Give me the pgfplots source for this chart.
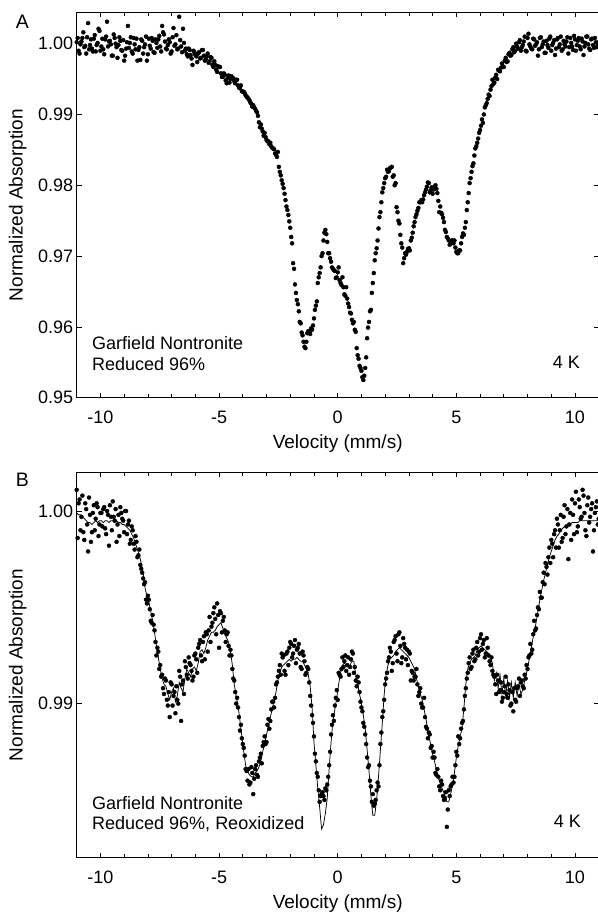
\documentclass[border=0pt]{standalone}
\usepackage{fontspec}
\setmainfont{Liberation Sans}
\usepackage{pgfplots}
\pgfplotsset{compat=1.18}
\usepackage{pgfplotstable}

\pgfplotstableread{
x y
-11.00 1.0002
-10.92 0.9990
-10.84 0.9999
-10.76 1.0008
-10.68 0.9995
-10.60 0.9986
-10.52 1.0029
-10.44 0.9998
-10.36 0.9993
-10.28 1.0007
-10.20 0.9989
-10.12 1.0001
-10.04 1.0018
-9.96 0.9996
-9.88 0.9992
-9.80 1.0006
-9.72 1.0031
-9.64 1.0003
-9.56 0.9999
-9.48 0.9983
-9.40 1.0008
-9.32 0.9995
-9.24 0.9998
-9.16 1.0004
-9.08 0.9990
-9.00 0.9976
-8.92 0.9993
-8.84 1.0025
-8.76 1.0001
-8.68 0.9989
-8.60 1.0008
-8.52 0.9992
-8.44 0.9976
-8.36 0.9995
-8.28 1.0006
-8.20 0.9986
-8.12 0.9999
-8.04 0.9976
-7.96 1.0007
-7.88 0.9993
-7.80 1.0004
-7.72 0.9987
-7.64 1.0001
-7.56 1.0006
-7.48 0.9996
-7.40 1.0025
-7.32 1.0013
-7.24 0.9993
-7.16 0.9998
-7.08 1.0002
-7.00 0.9989
-6.92 1.0022
-6.84 0.9999
-6.76 0.9992
-6.68 1.0038
-6.60 0.9996
-6.52 1.0021
-6.44 0.9990
-6.36 0.9985
-6.28 0.9993
-6.20 0.9984
-6.12 0.9970
-6.04 0.9988
-5.96 0.9982
-5.88 0.9986
-5.80 0.9979
-5.72 0.9991
-5.64 0.9983
-5.56 0.9978
-5.48 0.9986
-5.40 0.9975
-5.32 0.9980
-5.24 0.9967
-5.16 0.9970
-5.08 0.9960
-5.00 0.9967
-4.92 0.9958
-4.84 0.9953
-4.76 0.9956
-4.68 0.9944
-4.60 0.9955
-4.52 0.9950
-4.44 0.9952
-4.36 0.9947
-4.28 0.9949
-4.20 0.9941
-4.12 0.9937
-4.04 0.9933
-3.96 0.9932
-3.88 0.9927
-3.80 0.9924
-3.72 0.9920
-3.64 0.9915
-3.56 0.9913
-3.48 0.9908
-3.40 0.9903
-3.32 0.9889
-3.24 0.9886
-3.16 0.9876
-3.08 0.9874
-3.00 0.9864
-2.92 0.9862
-2.84 0.9860
-2.76 0.9853
-2.68 0.9851
-2.60 0.9843
-2.52 0.9847
-2.44 0.9819
-2.36 0.9807
-2.28 0.9796
-2.20 0.9779
-2.12 0.9765
-2.04 0.9749
-1.96 0.9727
-1.88 0.9690
-1.80 0.9660
-1.72 0.9638
-1.64 0.9622
-1.56 0.9605
-1.48 0.9588
-1.40 0.9572
-1.32 0.9579
-1.24 0.9594
-1.16 0.9590
-1.08 0.9596
-1.00 0.9612
-0.92 0.9630
-0.84 0.9662
-0.76 0.9676
-0.68 0.9700
-0.60 0.9722
-0.52 0.9737
-0.44 0.9720
-0.36 0.9704
-0.28 0.9692
-0.20 0.9682
-0.12 0.9679
-0.04 0.9670
0.04 0.9684
0.12 0.9662
0.20 0.9670
0.28 0.9646
0.36 0.9656
0.44 0.9633
0.52 0.9620
0.60 0.9610
0.68 0.9607
0.76 0.9593
0.84 0.9560
0.92 0.9545
1.00 0.9538
1.08 0.9525
1.16 0.9542
1.24 0.9584
1.32 0.9607
1.40 0.9624
1.48 0.9662
1.56 0.9694
1.64 0.9711
1.72 0.9739
1.80 0.9762
1.88 0.9790
1.96 0.9803
2.04 0.9812
2.12 0.9819
2.20 0.9824
2.28 0.9826
2.36 0.9814
2.44 0.9803
2.52 0.9762
2.60 0.9746
2.68 0.9718
2.76 0.9690
2.84 0.9704
2.92 0.9706
3.00 0.9711
3.08 0.9722
3.16 0.9733
3.24 0.9748
3.32 0.9759
3.40 0.9768
3.48 0.9776
3.56 0.9776
3.64 0.9786
3.72 0.9794
3.80 0.9804
3.88 0.9790
3.96 0.9797
4.04 0.9794
4.12 0.9800
4.20 0.9789
4.28 0.9762
4.36 0.9761
4.44 0.9754
4.52 0.9737
4.60 0.9727
4.68 0.9722
4.76 0.9718
4.84 0.9722
4.92 0.9722
5.00 0.9706
5.08 0.9704
5.16 0.9708
5.24 0.9727
5.32 0.9730
5.40 0.9748
5.48 0.9776
5.56 0.9803
5.64 0.9819
5.72 0.9831
5.80 0.9852
5.88 0.9860
5.96 0.9874
6.04 0.9884
6.12 0.9888
6.20 0.9910
6.28 0.9916
6.36 0.9928
6.44 0.9935
6.52 0.9949
6.60 0.9945
6.68 0.9956
6.76 0.9963
6.84 0.9961
6.92 0.9972
7.00 0.9967
7.08 0.9980
7.16 0.9975
7.24 0.9987
7.32 0.9984
7.40 0.9995
7.48 0.9990
7.56 0.9996
7.64 1.0002
7.72 0.9990
7.80 0.9998
7.88 1.0010
7.96 0.9989
8.04 1.0014
8.12 0.9996
8.20 0.9992
8.28 1.0006
8.36 0.9999
8.44 0.9983
8.52 1.0008
8.60 0.9995
8.68 1.0003
8.76 0.9987
8.84 0.9998
8.92 1.0007
9.00 0.9990
9.08 1.0001
9.16 0.9984
9.24 1.0006
9.32 0.9995
9.40 1.0010
9.48 0.9992
9.56 0.9999
9.64 1.0003
9.72 0.9986
9.80 1.0008
9.88 0.9996
9.96 1.0011
10.04 0.9990
10.12 1.0004
10.20 0.9996
10.28 1.0007
10.36 0.9984
10.44 1.0001
10.52 1.0010
10.60 0.9993
10.68 1.0006
10.76 0.9998
10.84 1.0008
10.92 0.9995
11.00 1.0002
}\dataA

\pgfplotstableread{
x y
-10.96 1.0008
-10.88 0.9986
-10.80 1.0003
-10.72 1.0016
-10.64 0.9997
-10.56 1.0009
-10.48 0.9992
-10.40 1.0006
-10.32 0.9989
-10.24 1.0012
-10.16 0.9998
-10.08 1.0021
-10.00 0.9990
-9.92 1.0007
-9.84 0.9985
-9.76 1.0010
-9.68 0.9996
-9.60 1.0004
-9.52 0.9983
-9.44 1.0013
-9.36 1.0000
-9.28 0.9980
-9.20 1.0009
-9.12 0.9991
-9.04 1.0005
-8.96 0.9983
-8.88 1.0002
-8.80 0.9994
-8.72 1.0009
-8.64 0.9986
-8.56 0.9999
-8.48 1.0007
-8.40 0.9991
-8.32 0.9977
-8.24 1.0004
-8.16 0.9995
-8.08 1.0010
-8.00 0.9985
-7.92 0.9997
-7.84 1.0008
-7.76 0.9988
-7.68 1.0006
-7.60 0.9994
-7.52 1.0011
-7.44 0.9989
-7.36 1.0016
-7.28 1.0003
-7.20 0.9992
-7.12 1.0006
-7.04 0.9986
-6.96 1.0009
-6.88 0.9997
-6.80 1.0012
-6.72 0.9993
-6.64 1.0005
-6.56 0.9988
-6.48 1.0001
-6.40 0.9993
-6.32 0.9982
-6.24 0.9991
-6.16 0.9979
-6.08 0.9990
-6.00 0.9984
-5.92 0.9974
-5.84 0.9988
-5.76 0.9980
-5.68 0.9991
-5.60 0.9976
-5.52 0.9982
-5.44 0.9973
-5.36 0.9981
-5.28 0.9970
-5.20 0.9975
-5.12 0.9963
-5.04 0.9968
-4.96 0.9967
-4.88 0.9953
-4.80 0.9958
-4.72 0.9948
-4.64 0.9951
-4.56 0.9945
-4.48 0.9954
-4.40 0.9951
-4.32 0.9944
-4.24 0.9949
-4.16 0.9938
-4.08 0.9941
-4.00 0.9932
-3.92 0.9930
-3.84 0.9925
-3.76 0.9922
-3.68 0.9917
-3.60 0.9911
-3.52 0.9910
-3.44 0.9905
-3.36 0.9898
-3.28 0.9882
-3.20 0.9880
-3.12 0.9870
-3.04 0.9868
-2.96 0.9862
-2.88 0.9858
-2.80 0.9855
-2.72 0.9852
-2.64 0.9845
-2.56 0.9840
-2.48 0.9826
-2.40 0.9814
-2.32 0.9802
-2.24 0.9788
-2.16 0.9770
-2.08 0.9758
-2.00 0.9740
-1.92 0.9718
-1.84 0.9682
-1.76 0.9648
-1.68 0.9632
-1.60 0.9607
-1.52 0.9592
-1.44 0.9579
-1.36 0.9570
-1.28 0.9591
-1.20 0.9593
-1.12 0.9598
-1.04 0.9602
-0.96 0.9624
-0.88 0.9636
-0.80 0.9670
-0.72 0.9684
-0.64 0.9704
-0.56 0.9733
-0.48 0.9731
-0.40 0.9704
-0.32 0.9697
-0.24 0.9684
-0.16 0.9680
-0.08 0.9669
0.00 0.9677
0.08 0.9666
0.16 0.9659
0.24 0.9656
0.32 0.9644
0.40 0.9640
0.48 0.9628
0.56 0.9619
0.64 0.9605
0.72 0.9596
0.80 0.9570
0.88 0.9555
0.96 0.9542
1.04 0.9529
1.12 0.9531
1.20 0.9557
1.28 0.9599
1.36 0.9622
1.44 0.9648
1.52 0.9676
1.60 0.9704
1.68 0.9722
1.76 0.9755
1.84 0.9776
1.92 0.9796
2.00 0.9810
2.08 0.9822
2.16 0.9820
2.24 0.9825
2.32 0.9812
2.40 0.9800
2.48 0.9769
2.56 0.9750
2.64 0.9730
2.72 0.9712
2.80 0.9697
2.88 0.9702
2.96 0.9710
3.04 0.9708
3.12 0.9726
3.20 0.9742
3.28 0.9755
3.36 0.9764
3.44 0.9776
3.52 0.9779
3.60 0.9780
3.68 0.9790
3.76 0.9798
3.84 0.9803
3.92 0.9793
4.00 0.9788
4.08 0.9798
4.16 0.9795
4.24 0.9778
4.32 0.9770
4.40 0.9759
4.48 0.9748
4.56 0.9734
4.64 0.9725
4.72 0.9716
4.80 0.9722
4.88 0.9718
4.96 0.9712
5.04 0.9704
5.12 0.9708
5.20 0.9718
5.28 0.9732
5.36 0.9740
5.44 0.9765
5.52 0.9789
5.60 0.9810
5.68 0.9827
5.76 0.9842
5.84 0.9855
5.92 0.9866
6.00 0.9878
6.08 0.9893
6.16 0.9900
6.24 0.9913
6.32 0.9922
6.40 0.9926
6.48 0.9940
6.56 0.9943
6.64 0.9952
6.72 0.9950
6.80 0.9962
6.88 0.9966
6.96 0.9968
7.04 0.9976
7.12 0.9974
7.20 0.9985
7.28 0.9983
7.36 0.9992
7.44 0.9988
7.52 1.0000
7.60 0.9993
7.68 1.0005
7.76 0.9995
7.84 1.0003
7.92 0.9990
8.00 1.0008
8.08 0.9999
8.16 0.9993
8.24 1.0007
8.32 0.9997
8.40 1.0002
8.48 0.9992
8.56 1.0009
8.64 0.9999
8.72 0.9987
8.80 1.0004
8.88 0.9994
8.96 1.0010
9.04 0.9998
9.12 1.0005
9.20 0.9993
9.28 1.0008
9.36 0.9999
9.44 0.9990
9.52 1.0004
9.60 0.9996
9.68 1.0009
9.76 0.9995
9.84 1.0001
9.92 0.9991
10.00 1.0006
10.08 0.9998
10.16 1.0008
10.24 0.9992
10.32 1.0003
10.40 0.9996
10.48 1.0010
10.56 0.9999
10.64 0.9991
10.72 1.0007
10.80 0.9994
10.88 1.0002
10.96 0.9998
}\dataAb

\pgfplotstableread{
x f d
-11.00 0.9999 1.0011
-10.92 0.9998 1.0004
-10.84 0.9998 0.9990
-10.76 0.9997 1.0008
-10.68 0.9996 0.9985
-10.60 0.9995 1.0001
-10.52 0.9994 0.9979
-10.44 0.9994 0.9998
-10.36 0.9993 0.9989
-10.28 0.9994 1.0003
-10.20 0.9995 0.9996
-10.12 0.9994 1.0002
-10.04 0.9995 0.9993
-9.96 0.9995 0.9999
-9.88 0.9994 1.0001
-9.80 0.9995 0.9991
-9.72 0.9995 1.0000
-9.64 0.9994 0.9982
-9.56 0.9995 0.9997
-9.48 0.9995 1.0005
-9.40 0.9994 0.9995
-9.32 0.9995 0.9984
-9.24 0.9994 0.9998
-9.16 0.9994 1.0002
-9.08 0.9993 0.9996
-9.00 0.9993 0.9989
-8.92 0.9992 1.0000
-8.84 0.9991 0.9993
-8.76 0.9990 0.9983
-8.68 0.9988 0.9992
-8.60 0.9986 0.9983
-8.52 0.9983 0.9987
-8.44 0.9980 0.9976
-8.36 0.9977 0.9980
-8.28 0.9973 0.9970
-8.20 0.9968 0.9965
-8.12 0.9960 0.9963
-8.04 0.9956 0.9952
-7.96 0.9953 0.9954
-7.88 0.9948 0.9943
-7.80 0.9943 0.9946
-7.72 0.9937 0.9938
-7.64 0.9930 0.9925
-7.56 0.9924 0.9927
-7.48 0.9918 0.9920
-7.40 0.9913 0.9915
-7.32 0.9910 0.9905
-7.24 0.9909 0.9912
-7.16 0.9905 0.9899
-7.08 0.9902 0.9893
-7.00 0.9906 0.9910
-6.92 0.9908 0.9904
-6.84 0.9901 0.9895
-6.76 0.9904 0.9902
-6.68 0.9911 0.9917
-6.60 0.9908 0.9891
-6.52 0.9906 0.9912
-6.44 0.9913 0.9922
-6.36 0.9918 0.9915
-6.28 0.9916 0.9924
-6.20 0.9914 0.9920
-6.12 0.9918 0.9912
-6.04 0.9919 0.9925
-5.96 0.9917 0.9923
-5.88 0.9921 0.9929
-5.80 0.9927 0.9933
-5.72 0.9928 0.9922
-5.64 0.9926 0.9935
-5.56 0.9929 0.9937
-5.48 0.9933 0.9927
-5.40 0.9935 0.9945
-5.32 0.9937 0.9940
-5.24 0.9937 0.9947
-5.16 0.9938 0.9944
-5.08 0.9940 0.9952
-5.00 0.9941 0.9929
-4.92 0.9942 0.9947
-4.84 0.9939 0.9943
-4.76 0.9936 0.9938
-4.68 0.9934 0.9936
-4.60 0.9932 0.9930
-4.52 0.9927 0.9928
-4.44 0.9920 0.9918
-4.36 0.9910 0.9912
-4.28 0.9904 0.9900
-4.20 0.9899 0.9898
-4.12 0.9891 0.9886
-4.04 0.9883 0.9882
-3.96 0.9875 0.9877
-3.88 0.9868 0.9866
-3.80 0.9865 0.9860
-3.72 0.9863 0.9858
-3.64 0.9862 0.9867
-3.56 0.9862 0.9853
-3.48 0.9864 0.9866
-3.40 0.9865 0.9863
-3.32 0.9867 0.9870
-3.24 0.9870 0.9874
-3.16 0.9875 0.9878
-3.08 0.9879 0.9883
-3.00 0.9884 0.9880
-2.92 0.9888 0.9892
-2.84 0.9893 0.9891
-2.76 0.9897 0.9901
-2.68 0.9902 0.9898
-2.60 0.9906 0.9910
-2.52 0.9912 0.9914
-2.44 0.9916 0.9920
-2.36 0.9919 0.9926
-2.28 0.9920 0.9925
-2.20 0.9921 0.9915
-2.12 0.9922 0.9927
-2.04 0.9923 0.9929
-1.96 0.9922 0.9931
-1.88 0.9923 0.9926
-1.80 0.9923 0.9933
-1.72 0.9924 0.9928
-1.64 0.9923 0.9931
-1.56 0.9922 0.9919
-1.48 0.9922 0.9927
-1.40 0.9920 0.9922
-1.32 0.9918 0.9916
-1.24 0.9915 0.9918
-1.16 0.9909 0.9904
-1.08 0.9898 0.9894
-1.00 0.9880 0.9883
-0.92 0.9868 0.9870
-0.84 0.9856 0.9862
-0.76 0.9846 0.9849
-0.68 0.9835 0.9853
-0.60 0.9837 0.9852
-0.52 0.9843 0.9856
-0.44 0.9851 0.9858
-0.36 0.9866 0.9868
-0.28 0.9880 0.9884
-0.20 0.9891 0.9894
-0.12 0.9897 0.9899
-0.04 0.9903 0.9907
0.04 0.9910 0.9916
0.12 0.9916 0.9914
0.20 0.9920 0.9924
0.28 0.9921 0.9922
0.36 0.9920 0.9917
0.44 0.9919 0.9924
0.52 0.9920 0.9919
0.60 0.9922 0.9927
0.68 0.9922 0.9916
0.76 0.9915 0.9912
0.84 0.9910 0.9914
0.92 0.9905 0.9906
1.00 0.9900 0.9898
1.08 0.9894 0.9890
1.16 0.9887 0.9884
1.24 0.9876 0.9872
1.32 0.9865 0.9868
1.40 0.9852 0.9857
1.48 0.9842 0.9853
1.56 0.9842 0.9848
1.64 0.9850 0.9855
1.72 0.9862 0.9857
1.80 0.9876 0.9879
1.88 0.9890 0.9893
1.96 0.9905 0.9902
2.04 0.9915 0.9913
2.12 0.9920 0.9922
2.20 0.9923 0.9929
2.28 0.9924 0.9917
2.36 0.9925 0.9932
2.44 0.9927 0.9935
2.52 0.9928 0.9922
2.60 0.9929 0.9937
2.68 0.9928 0.9921
2.76 0.9927 0.9934
2.84 0.9926 0.9929
2.92 0.9925 0.9928
3.00 0.9924 0.9927
3.08 0.9922 0.9912
3.16 0.9920 0.9916
3.24 0.9918 0.9914
3.32 0.9913 0.9918
3.40 0.9909 0.9904
3.48 0.9905 0.9908
3.56 0.9902 0.9898
3.64 0.9897 0.9903
3.72 0.9892 0.9888
3.80 0.9886 0.9882
3.88 0.9881 0.9884
3.96 0.9876 0.9878
4.04 0.9872 0.9875
4.12 0.9868 0.9864
4.20 0.9863 0.9866
4.28 0.9860 0.9857
4.36 0.9857 0.9860
4.44 0.9855 0.9852
4.52 0.9852 0.9851
4.60 0.9849 0.9836
4.68 0.9849 0.9855
4.76 0.9853 0.9857
4.84 0.9858 0.9862
4.92 0.9864 0.9862
5.00 0.9872 0.9875
5.08 0.9878 0.9883
5.16 0.9883 0.9882
5.24 0.9887 0.9890
5.32 0.9898 0.9897
5.40 0.9910 0.9908
5.48 0.9918 0.9916
5.56 0.9921 0.9924
5.64 0.9923 0.9919
5.72 0.9924 0.9928
5.80 0.9925 0.9923
5.88 0.9928 0.9932
5.96 0.9929 0.9927
6.04 0.9930 0.9936
6.12 0.9929 0.9931
6.20 0.9928 0.9924
6.28 0.9927 0.9934
6.36 0.9926 0.9925
6.44 0.9924 0.9920
6.52 0.9921 0.9917
6.60 0.9912 0.9914
6.68 0.9916 0.9905
6.76 0.9908 0.9912
6.84 0.9915 0.9907
6.92 0.9905 0.9901
7.00 0.9913 0.9906
7.08 0.9904 0.9914
7.16 0.9912 0.9903
7.24 0.9903 0.9907
7.32 0.9911 0.9900
7.40 0.9903 0.9896
7.48 0.9911 0.9902
7.56 0.9904 0.9908
7.64 0.9910 0.9913
7.72 0.9905 0.9911
7.80 0.9907 0.9909
7.88 0.9912 0.9915
7.96 0.9916 0.9920
8.04 0.9921 0.9924
8.12 0.9926 0.9931
8.20 0.9932 0.9928
8.28 0.9937 0.9943
8.36 0.9942 0.9939
8.44 0.9948 0.9950
8.52 0.9954 0.9958
8.60 0.9959 0.9955
8.68 0.9964 0.9968
8.76 0.9968 0.9973
8.84 0.9972 0.9967
8.92 0.9976 0.9981
9.00 0.9979 0.9985
9.08 0.9982 0.9976
9.16 0.9985 0.9990
9.24 0.9987 0.9996
9.32 0.9988 0.9981
9.40 0.9990 0.9998
9.48 0.9991 0.9986
9.56 0.9992 1.0003
9.64 0.9992 0.9992
9.72 0.9993 0.9975
9.80 0.9993 0.9999
9.88 0.9994 1.0006
9.96 0.9994 0.9988
10.04 0.9994 1.0010
10.12 0.9994 0.9992
10.20 0.9995 1.0002
10.28 0.9995 0.9997
10.36 0.9995 1.0008
10.44 0.9995 0.9990
10.52 0.9995 1.0003
10.60 0.9995 0.9994
10.68 0.9995 1.0001
10.76 0.9995 0.9979
10.84 0.9995 0.9999
10.92 0.9995 1.0005
11.00 0.9995 0.9996
}\dataB

\pgfplotstableread{
x d
-10.96 0.9986
-10.88 1.0006
-10.80 0.9997
-10.72 0.9989
-10.64 1.0004
-10.56 0.9993
-10.48 1.0007
-10.40 0.9984
-10.32 0.9999
-10.24 0.9990
-10.16 1.0004
-10.08 0.9987
-10.00 0.9999
-9.92 0.9992
-9.84 1.0002
-9.76 0.9988
-9.68 0.9998
-9.60 1.0003
-9.52 0.9990
-9.44 0.9997
-9.36 1.0001
-9.28 0.9993
-9.20 0.9987
-9.12 0.9999
-9.04 0.9995
-8.96 1.0000
-8.88 0.9988
-8.80 0.9995
-8.72 0.9985
-8.64 0.9990
-8.56 0.9980
-8.48 0.9984
-8.40 0.9977
-8.32 0.9972
-8.24 0.9968
-8.16 0.9962
-8.08 0.9954
-8.00 0.9956
-7.92 0.9949
-7.84 0.9942
-7.76 0.9941
-7.68 0.9932
-7.60 0.9929
-7.52 0.9918
-7.44 0.9914
-7.36 0.9908
-7.28 0.9913
-7.20 0.9902
-7.12 0.9906
-7.04 0.9911
-6.96 0.9899
-6.88 0.9906
-6.80 0.9909
-6.72 0.9900
-6.64 0.9914
-6.56 0.9910
-6.48 0.9905
-6.40 0.9919
-6.32 0.9913
-6.24 0.9921
-6.16 0.9917
-6.08 0.9914
-6.00 0.9926
-5.92 0.9916
-5.84 0.9931
-5.76 0.9925
-5.68 0.9932
-5.60 0.9923
-5.52 0.9936
-5.44 0.9938
-5.36 0.9932
-5.28 0.9942
-5.20 0.9950
-5.12 0.9936
-5.04 0.9946
-4.96 0.9948
-4.88 0.9937
-4.80 0.9945
-4.72 0.9932
-4.64 0.9937
-4.56 0.9925
-4.48 0.9925
-4.40 0.9913
-4.32 0.9906
-4.24 0.9903
-4.16 0.9893
-4.08 0.9889
-4.00 0.9879
-3.92 0.9873
-3.84 0.9865
-3.76 0.9866
-3.68 0.9859
-3.60 0.9864
-3.52 0.9861
-3.44 0.9868
-3.36 0.9862
-3.28 0.9872
-3.20 0.9869
-3.12 0.9880
-3.04 0.9879
-2.96 0.9889
-2.88 0.9887
-2.80 0.9897
-2.72 0.9901
-2.64 0.9903
-2.56 0.9911
-2.48 0.9917
-2.40 0.9915
-2.32 0.9924
-2.24 0.9917
-2.16 0.9926
-2.08 0.9920
-2.00 0.9932
-1.92 0.9924
-1.84 0.9930
-1.76 0.9921
-1.68 0.9929
-1.60 0.9926
-1.52 0.9918
-1.44 0.9925
-1.36 0.9915
-1.28 0.9919
-1.20 0.9911
-1.12 0.9899
-1.04 0.9890
-0.96 0.9874
-0.88 0.9864
-0.80 0.9855
-0.72 0.9852
-0.64 0.9854
-0.56 0.9850
-0.48 0.9855
-0.40 0.9862
-0.32 0.9875
-0.24 0.9889
-0.16 0.9891
-0.08 0.9903
0.00 0.9902
0.08 0.9915
0.16 0.9918
0.24 0.9919
0.32 0.9925
0.40 0.9920
0.48 0.9915
0.56 0.9923
0.64 0.9926
0.72 0.9919
0.80 0.9909
0.88 0.9911
0.96 0.9901
1.04 0.9896
1.12 0.9888
1.20 0.9879
1.28 0.9867
1.36 0.9860
1.44 0.9849
1.52 0.9847
1.60 0.9850
1.68 0.9859
1.76 0.9868
1.84 0.9885
1.92 0.9896
2.00 0.9910
2.08 0.9916
2.16 0.9924
2.24 0.9927
2.32 0.9921
2.40 0.9933
2.48 0.9926
2.56 0.9936
2.64 0.9930
2.72 0.9924
2.80 0.9931
2.88 0.9923
2.96 0.9920
3.04 0.9926
3.12 0.9917
3.20 0.9912
3.28 0.9914
3.36 0.9910
3.44 0.9906
3.52 0.9900
3.60 0.9898
3.68 0.9893
3.76 0.9887
3.84 0.9885
3.92 0.9877
4.00 0.9872
4.08 0.9872
4.16 0.9863
4.24 0.9862
4.32 0.9855
4.40 0.9858
4.48 0.9850
4.56 0.9854
4.64 0.9845
4.72 0.9852
4.80 0.9858
4.88 0.9859
4.96 0.9868
5.04 0.9873
5.12 0.9879
5.20 0.9887
5.28 0.9891
5.36 0.9904
5.44 0.9913
5.52 0.9921
5.60 0.9918
5.68 0.9926
5.76 0.9922
5.84 0.9929
5.92 0.9925
6.00 0.9934
6.08 0.9928
6.16 0.9933
6.24 0.9926
6.32 0.9929
6.40 0.9922
6.48 0.9924
6.56 0.9915
6.64 0.9910
6.72 0.9915
6.80 0.9906
6.88 0.9911
6.96 0.9903
7.04 0.9909
7.12 0.9905
7.20 0.9910
7.28 0.9899
7.36 0.9906
7.44 0.9908
7.52 0.9901
7.60 0.9909
7.68 0.9904
7.76 0.9912
7.84 0.9908
7.92 0.9913
8.00 0.9918
8.08 0.9925
8.16 0.9926
8.24 0.9936
8.32 0.9938
8.40 0.9946
8.48 0.9949
8.56 0.9955
8.64 0.9963
8.72 0.9962
8.80 0.9971
8.88 0.9976
8.96 0.9973
9.04 0.9983
9.12 0.9988
9.20 0.9981
9.28 0.9993
9.36 0.9990
9.44 0.9984
9.52 0.9997
9.60 0.9988
9.68 1.0001
9.76 0.9993
9.84 0.9985
9.92 0.9998
10.00 1.0004
10.08 0.9989
10.16 1.0006
10.24 0.9996
10.32 1.0011
10.40 0.9999
10.48 0.9987
10.56 1.0007
10.64 0.9997
10.72 1.0004
10.80 0.9990
10.88 1.0002
10.96 0.9993
}\dataBb

\newcommand{\tfont}{\fontsize{18}{21}\selectfont}
\newcommand{\lfont}{\fontsize{19}{22}\selectfont}

\pgfplotsset{
  panel/.style={
    scale only axis, width=522pt, height=385.2pt, anchor=south west,
    xmin=-11, xmax=11,
    xtick={-10,-5,0,5,10}, minor x tick num=4,
    tick align=inside,
    major tick length=5pt, minor tick length=3.3pt,
    every tick/.style={black, line width=0.7pt},
    axis line style={line width=0.9pt},
    every tick label/.append style={font=\tfont},
    label style={font=\lfont},
    /pgf/number format/assume math mode=true,
    yticklabel style={/pgf/number format/.cd, fixed, fixed zerofill, precision=2},
    xticklabel style={yshift=-10pt},
    xlabel={Velocity (mm/s)},
    ylabel={Normalized Absorption},
    xlabel style={at={(rel axis cs:0.5,0)}, anchor=base, yshift=-51pt},
    ylabel style={at={(rel axis cs:0,0.5)}, anchor=center, yshift=59pt},
  },
  dots/.style={only marks, mark=*, mark size=2pt, mark options={fill=black, draw=none}},
}

\begin{document}
\begin{tikzpicture}[x=1pt,y=1pt]
\begin{axis}[panel, at={(76.7pt,514.3pt)}, ymin=0.95, ymax=1.0044,
  ytick={0.95,0.96,0.97,0.98,0.99,1.00}]
\addplot[dots] table[x=x,y=y]{\dataA};
\addplot[dots] table[x=x,y=y]{\dataAb};
\end{axis}
\begin{axis}[panel, at={(76.7pt,54.3pt)}, ymin=0.982, ymax=1.002,
  ytick={0.99,1.00}]
\addplot[dots] table[x=x,y=d]{\dataB};
\addplot[dots] table[x=x,y=d]{\dataBb};
\addplot[black, line width=0.75pt, no marks] table[x=x,y=f]{\dataB};
\end{axis}
\node[font=\fontsize{19.5}{22}\selectfont, anchor=base] at (22.5,883) {A};
\node[font=\fontsize{19.5}{22}\selectfont, anchor=base] at (22.5,425) {B};
\node[font=\tfont, anchor=base west, inner sep=0pt] at (92,562) {Garfield Nontronite};
\node[font=\tfont, anchor=base west, inner sep=0pt] at (92,541) {Reduced 96\%};
\node[font=\tfont, anchor=base east, inner sep=0pt] at (580,543.7) {4 K};
\node[font=\tfont, anchor=base west, inner sep=0pt] at (92,102.7) {Garfield Nontronite};
\node[font=\tfont, anchor=base west, inner sep=0pt] at (92,82.7) {Reduced 96\%, Reoxidized};
\node[font=\tfont, anchor=base east, inner sep=0pt] at (581,84.3) {4 K};
\pgfresetboundingbox
\useasboundingbox (0,0) rectangle (597,912);
\end{tikzpicture}
\end{document}
